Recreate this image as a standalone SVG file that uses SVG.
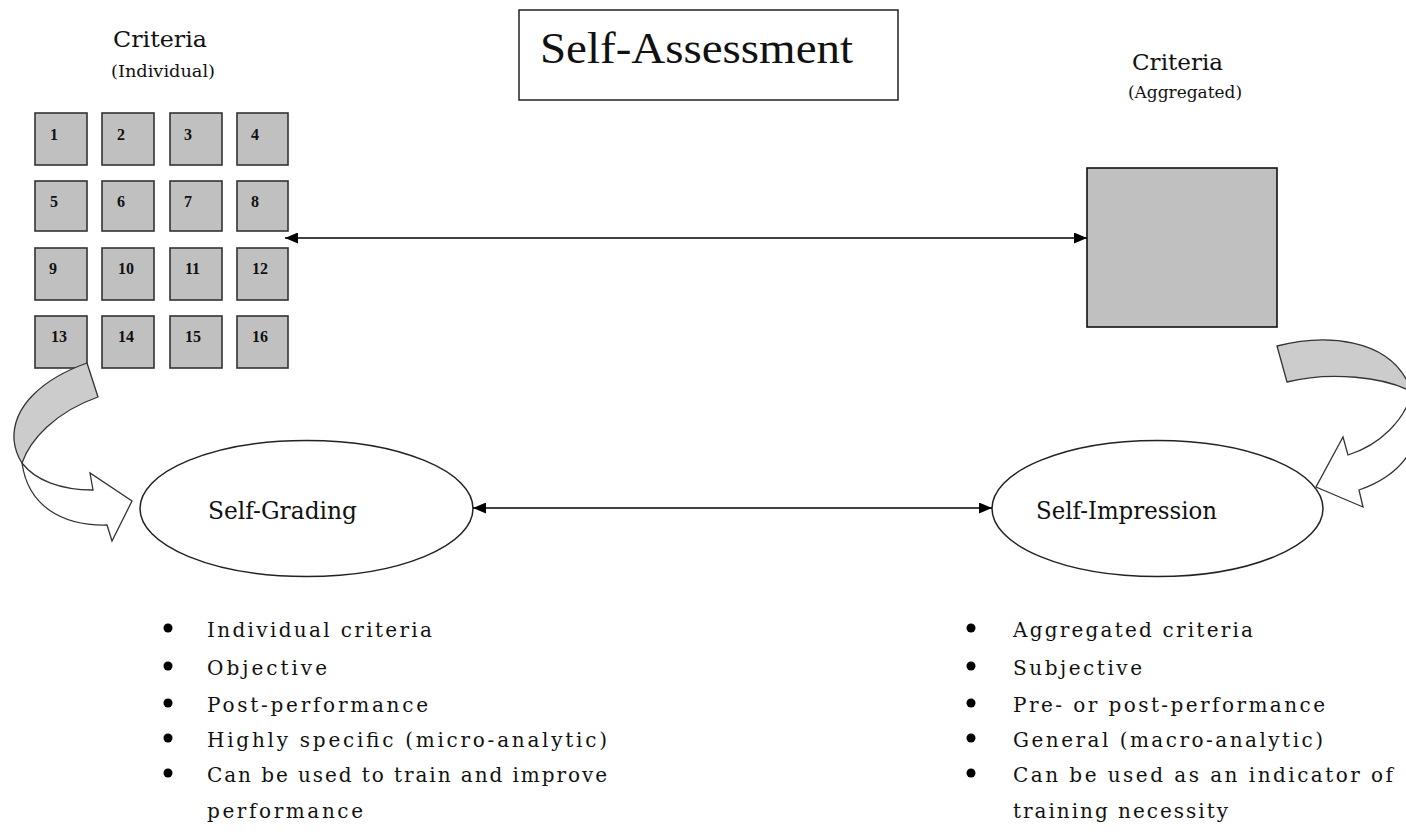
<svg xmlns="http://www.w3.org/2000/svg" width="1406" height="835" viewBox="0 0 1406 835">
<style>
.sq{fill:#c0c0c0;stroke:#333;stroke-width:1.6}
.num{font-family:"Liberation Serif",serif;font-size:16px;font-weight:bold;fill:#111}
.lbl{font-family:"DejaVu Serif","Liberation Serif",serif;fill:#111}
.title{font-family:"Liberation Serif",serif;font-size:44px;fill:#111}
.ell{fill:#fff;stroke:#222;stroke-width:1.5}
.conn{stroke:#000;stroke-width:1.5;fill:none}
.band{fill:#cccccc;stroke:#333;stroke-width:1.3;stroke-linejoin:round}
.wband{fill:#fff;stroke:#333;stroke-width:1.3;stroke-linejoin:miter}
.bul{fill:#000}
.bt{font-family:"DejaVu Serif","Liberation Serif",serif;font-size:20px;fill:#111}
</style>
<defs>
<marker id="ah" markerUnits="userSpaceOnUse" markerWidth="14" markerHeight="11" refX="13" refY="5.5" orient="auto-start-reverse">
<path d="M0,0 L13,5.5 L0,11 Z" fill="#000"/>
</marker>
</defs>
<rect width="1406" height="835" fill="#fff"/>

<g id="title">
<rect x="519" y="10" width="379" height="90" fill="#fff" stroke="#222" stroke-width="1.5"/>
<text class="title" x="540" y="63" textLength="313" lengthAdjust="spacingAndGlyphs">Self-Assessment</text>
</g>

<g id="criteria-individual-label">
<text class="lbl" x="113" y="47" font-size="23" textLength="94" lengthAdjust="spacingAndGlyphs">Criteria</text>
<text class="lbl" x="111" y="77" font-size="16" textLength="104" lengthAdjust="spacingAndGlyphs">(Individual)</text>
</g>

<g id="criteria-aggregated-label">
<text class="lbl" x="1132" y="70" font-size="23" textLength="91" lengthAdjust="spacingAndGlyphs">Criteria</text>
<text class="lbl" x="1128" y="98" font-size="16" textLength="114" lengthAdjust="spacingAndGlyphs">(Aggregated)</text>
</g>

<g id="grid">
<g id="c1"><rect class="sq" x="35" y="113" width="52" height="52"/><text class="num" x="50" y="140">1</text></g>
<g id="c2"><rect class="sq" x="102" y="113" width="52" height="52"/><text class="num" x="117" y="140">2</text></g>
<g id="c3"><rect class="sq" x="170" y="113" width="52" height="52"/><text class="num" x="184" y="140">3</text></g>
<g id="c4"><rect class="sq" x="237" y="113" width="51" height="52"/><text class="num" x="251" y="140">4</text></g>
<g id="c5"><rect class="sq" x="35" y="181" width="52" height="50"/><text class="num" x="50" y="207">5</text></g>
<g id="c6"><rect class="sq" x="102" y="181" width="52" height="50"/><text class="num" x="117" y="207">6</text></g>
<g id="c7"><rect class="sq" x="170" y="181" width="52" height="50"/><text class="num" x="184" y="207">7</text></g>
<g id="c8"><rect class="sq" x="237" y="181" width="51" height="50"/><text class="num" x="251" y="207">8</text></g>
<g id="c9"><rect class="sq" x="35" y="248" width="52" height="52"/><text class="num" x="49" y="274">9</text></g>
<g id="c10"><rect class="sq" x="102" y="248" width="52" height="52"/><text class="num" x="118" y="274">10</text></g>
<g id="c11"><rect class="sq" x="170" y="248" width="52" height="52"/><text class="num" x="185" y="274">11</text></g>
<g id="c12"><rect class="sq" x="237" y="248" width="51" height="52"/><text class="num" x="252" y="274">12</text></g>
<g id="c13"><rect class="sq" x="35" y="316" width="52" height="52"/><text class="num" x="51" y="342">13</text></g>
<g id="c14"><rect class="sq" x="102" y="316" width="52" height="52"/><text class="num" x="118" y="342">14</text></g>
<g id="c15"><rect class="sq" x="170" y="316" width="52" height="52"/><text class="num" x="185" y="342">15</text></g>
<g id="c16"><rect class="sq" x="237" y="316" width="51" height="52"/><text class="num" x="252" y="342">16</text></g>
</g>

<g id="aggregated-box">
<rect x="1087" y="168" width="190" height="159" fill="#c0c0c0" stroke="#111" stroke-width="1.6"/>
</g>

<g id="self-grading">
<ellipse class="ell" cx="306.5" cy="508.5" rx="166.5" ry="68"/>
<text class="lbl" x="208" y="519" font-size="25" textLength="149" lengthAdjust="spacingAndGlyphs">Self-Grading</text>
</g>

<g id="self-impression">
<ellipse class="ell" cx="1157.5" cy="508.5" rx="165.5" ry="68"/>
<text class="lbl" x="1036" y="519" font-size="25" textLength="181" lengthAdjust="spacingAndGlyphs">Self-Impression</text>
</g>

<g id="connectors">
<line class="conn" x1="285" y1="238" x2="1087" y2="238" marker-start="url(#ah)" marker-end="url(#ah)"/>
<line class="conn" x1="473" y1="508" x2="992" y2="508" marker-start="url(#ah)" marker-end="url(#ah)"/>
<g id="curved-left">
<path class="wband" d="M22,463 C35,480 60,490 93,490 L90,473 L132,501 L112,541 L107,525 C62,526 28,506 22,463 Z"/>
<path class="band" d="M87,363 C45,378 12,405 14,440 C15,450 18,457 22,463 C30,440 55,412 98,397 Z"/>
</g>
<g id="curved-right">
<path class="wband" d="M1412,392 C1405,420 1380,445 1348,455 L1343,437 L1316,487 L1363,507 L1359,490 C1382,482 1402,468 1412,448 Z"/>
<path class="band" d="M1277,346 C1320,335 1392,334 1412,392 C1385,377 1330,371 1287,382 Z"/>
</g>
</g>

<g id="list-left">
<circle class="bul" cx="168" cy="628" r="4.5"/>
<circle class="bul" cx="168" cy="666" r="4.5"/>
<circle class="bul" cx="168" cy="703" r="4.5"/>
<circle class="bul" cx="168" cy="738" r="4.5"/>
<circle class="bul" cx="168" cy="773" r="4.5"/>
<text class="bt" x="207" y="637" textLength="225" lengthAdjust="spacing">Individual criteria</text>
<text class="bt" x="207" y="675" textLength="120" lengthAdjust="spacing">Objective</text>
<text class="bt" x="207" y="712" textLength="221" lengthAdjust="spacing">Post-performance</text>
<text class="bt" x="207" y="747" textLength="400" lengthAdjust="spacing">Highly specific (micro-analytic)</text>
<text class="bt" x="207" y="782" textLength="400" lengthAdjust="spacing">Can be used to train and improve</text>
<text class="bt" x="207" y="818" textLength="156" lengthAdjust="spacing">performance</text>
</g>

<g id="list-right">
<circle class="bul" cx="971" cy="628" r="4.5"/>
<circle class="bul" cx="971" cy="666" r="4.5"/>
<circle class="bul" cx="971" cy="703" r="4.5"/>
<circle class="bul" cx="971" cy="738" r="4.5"/>
<circle class="bul" cx="971" cy="773" r="4.5"/>
<text class="bt" x="1013" y="637" textLength="240" lengthAdjust="spacing">Aggregated criteria</text>
<text class="bt" x="1013" y="675" textLength="129" lengthAdjust="spacing">Subjective</text>
<text class="bt" x="1013" y="712" textLength="312" lengthAdjust="spacing">Pre- or post-performance</text>
<text class="bt" x="1013" y="747" textLength="310" lengthAdjust="spacing">General (macro-analytic)</text>
<text class="bt" x="1013" y="782" textLength="380" lengthAdjust="spacing">Can be used as an indicator of</text>
<text class="bt" x="1013" y="818" textLength="215" lengthAdjust="spacing">training necessity</text>
</g>
</svg>
